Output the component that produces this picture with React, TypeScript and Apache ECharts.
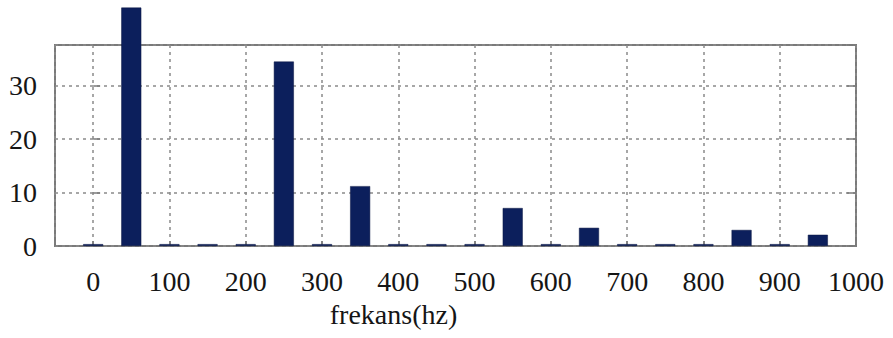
import React, { useEffect, useRef } from "react";
import * as echarts from "echarts";

// Harmonic spectrum: frequency (Hz) of each component and its amplitude
const frequencies = [0, 50, 100, 150, 200, 250, 300, 350, 400, 450, 500, 550, 600, 650, 700, 750, 800, 850, 900, 950];
const amplitudes = [0.35, 44.6, 0.35, 0.35, 0.35, 34.5, 0.35, 11.2, 0.35, 0.35, 0.35, 7.1, 0.35, 3.4, 0.35, 0.35, 0.35, 3.0, 0.35, 2.1];

const xTitle = "frekans(hz)";
const xRange = [-50, 1000];
const yRange = [0, 37.6];

const FONT = "Liberation Serif";
const TEXT_COLOR = "#151515";
const GRID_COLOR = "#8a8a8a";
const BAR_COLOR = "#0c1f5c";

export default function App() {
  const ref = useRef<HTMLDivElement>(null);

  useEffect(() => {
    document.body.style.margin = "0";
    if (!ref.current) return;
    const chart = echarts.init(ref.current, undefined, { renderer: "svg" });

    const splitLine = {
      show: true,
      lineStyle: { color: GRID_COLOR, width: 1.5, type: [3, 4] as number[] },
    };

    chart.setOption({
      animation: false,
      backgroundColor: "#ffffff",
      textStyle: { fontFamily: FONT },
      grid: {
        left: 55,
        right: 37,
        top: 45,
        bottom: 92,
        show: true,
        borderColor: "#7a7a7a",
        borderWidth: 2,
        backgroundColor: "#ffffff",
      },
      xAxis: {
        type: "value",
        min: xRange[0],
        max: xRange[1],
        splitNumber: 10,
        name: xTitle,
        nameLocation: "middle",
        nameGap: 54,
        nameTextStyle: {
          fontFamily: FONT,
          fontSize: 28,
          color: TEXT_COLOR,
          padding: [0, 124, 0, 0],
        },
        axisLine: { show: false },
        axisTick: { show: true, inside: true, length: 5, lineStyle: { color: "#7a7a7a", width: 1.5 } },
        axisLabel: {
          fontFamily: FONT,
          fontSize: 28,
          color: TEXT_COLOR,
          margin: 21,
          formatter: (v: number) => (v < 0 ? "" : String(v)),
        },
        splitLine,
      },
      yAxis: [
        {
          type: "value",
          min: yRange[0],
          max: yRange[1],
          splitNumber: 4,
          axisLine: { show: false },
          axisTick: { show: true, inside: true, length: 7, lineStyle: { color: "#7a7a7a", width: 1.5 } },
          axisLabel: {
            fontFamily: FONT,
            fontSize: 28,
            color: TEXT_COLOR,
            margin: 18,
            padding: [0, 0, 6, 0],
            formatter: (v: number) => (v % 10 === 0 ? String(v) : ""),
          },
          splitLine,
        },
        {
          type: "value",
          position: "right",
          min: yRange[0],
          max: yRange[1],
          splitNumber: 4,
          axisLine: { show: false },
          axisTick: { show: true, inside: true, length: 9, lineStyle: { color: "#7a7a7a", width: 1.5 } },
          axisLabel: { show: false },
          splitLine: { show: false },
        },
      ],
      series: [
        {
          type: "bar",
          xAxisIndex: 0,
          yAxisIndex: 0,
          clip: false,
          barWidth: 20,
          itemStyle: { color: BAR_COLOR, borderColor: "#0a1642", borderWidth: 0.5 },
          data: frequencies.map((f, i) => [f, amplitudes[i]]),
        },
      ],
    });

    return () => chart.dispose();
  }, []);

  return <div ref={ref} style={{ width: 893, height: 338 }} />;
}
